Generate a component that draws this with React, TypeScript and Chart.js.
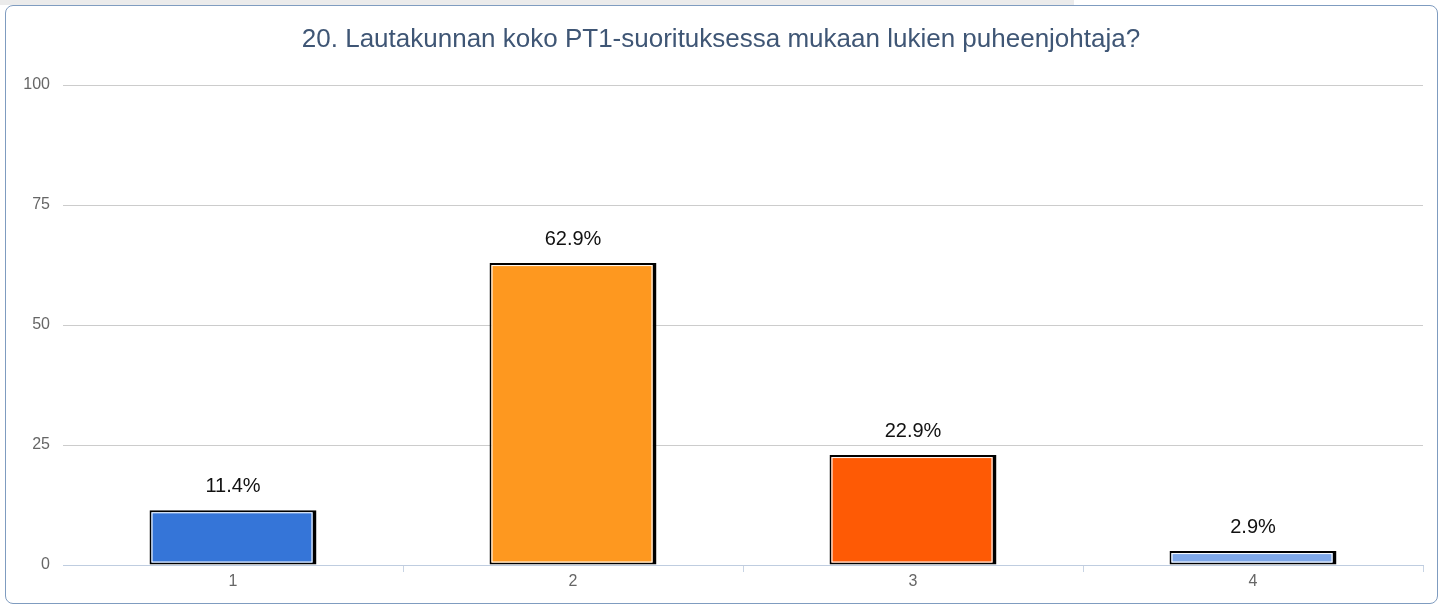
import React, { useEffect, useRef } from "react";
import { Chart, registerables } from "chart.js";

Chart.register(...registerables);

const categories = ["1", "2", "3", "4"];
const percentages = [11.4, 62.9, 22.9, 2.9];
const barColors = ["#3575d8", "#fe981f", "#fe5a05", "#7ea7e8"];
const yTicks = [0, 25, 50, 75, 100];
const titleText = "20. Lautakunnan koko PT1-suorituksessa mukaan lukien puheenjohtaja?";

const FONT = "'Liberation Sans', Arial, sans-serif";

const innerLinePlugin = {
  id: "innerLine",
  afterDatasetsDraw(chart: any) {
    const ctx = chart.ctx;
    const meta = chart.getDatasetMeta(0);
    ctx.save();
    ctx.strokeStyle = "#ffffff";
    ctx.lineWidth = 1;
    meta.data.forEach((el: any) => {
      const { x, y, base, width } = el.getProps(["x", "y", "base", "width"], true);
      const left = x - width / 2 + 2;
      const right = x + width / 2 - 4;
      const top = Math.min(y, base) + 2;
      const bottom = Math.max(y, base) - 2;
      if (bottom - top > 2) {
        ctx.strokeRect(left + 0.5, top + 0.5, right - left - 1, bottom - top - 1);
      }
    });
    ctx.restore();
  },
};

const labelsPlugin = {
  id: "valueLabels",
  afterDatasetsDraw(chart: any) {
    const ctx = chart.ctx;
    const meta = chart.getDatasetMeta(0);
    ctx.save();
    ctx.fillStyle = "#111111";
    ctx.font = `20px ${FONT}`;
    ctx.textAlign = "center";
    ctx.textBaseline = "alphabetic";
    meta.data.forEach((el: any, i: number) => {
      const { x, y } = el.getProps(["x", "y"], true);
      ctx.fillText(`${percentages[i].toFixed(1)}%`, x, y - 18);
    });
    ctx.restore();
  },
};

const titlePlugin = {
  id: "fixedTitle",
  afterDraw(chart: any) {
    const ctx = chart.ctx;
    ctx.save();
    ctx.fillStyle = "#3f5675";
    ctx.font = `26px ${FONT}`;
    ctx.textAlign = "center";
    ctx.textBaseline = "alphabetic";
    ctx.fillText(titleText, 721, 47);
    ctx.restore();
  },
};

export default function App() {
  const canvasRef = useRef<HTMLCanvasElement | null>(null);

  useEffect(() => {
    if (!canvasRef.current) return;
    const chart = new Chart(canvasRef.current, {
      type: "bar",
      data: {
        labels: categories,
        datasets: [
          {
            data: percentages,
            backgroundColor: barColors,
            borderColor: "#000000",
            borderWidth: { top: 2, left: 2, bottom: 2, right: 4 } as any,
            borderSkipped: false,
            barPercentage: 0.491,
            categoryPercentage: 1,
          },
        ],
      },
      options: {
        animation: false,
        responsive: false,
        maintainAspectRatio: false,
        layout: { padding: { top: 85, left: 0, right: 22, bottom: 0 } },
        plugins: {
          legend: { display: false },
          tooltip: { enabled: false },
          title: { display: false },
        },
        scales: {
          x: {
            offset: true,
            grid: {
              offset: true,
              drawOnChartArea: false,
              drawTicks: true,
              tickLength: 7,
              color: (c: any) => (c.index === 0 ? "rgba(0,0,0,0)" : "#c8d4e4"),
            },
            border: { display: true, color: "#bfcde0", width: 1 },
            ticks: {
              padding: 0,
              color: "#666666",
              font: { family: FONT, size: 16 },
            },
            afterFit: (scale: any) => {
              scale.height = 42;
            },
          },
          y: {
            min: 0,
            max: 100,
            afterBuildTicks: (scale: any) => {
              scale.ticks = yTicks.map((v) => ({ value: v }));
            },
            grid: {
              drawTicks: false,
              color: "#cccccc",
              lineWidth: 1,
            },
            border: { display: false },
            ticks: {
              padding: 13,
              color: "#666666",
              font: { family: FONT, size: 16 },
            },
            afterFit: (scale: any) => {
              scale.width = 63;
            },
          },
        },
      },
      plugins: [innerLinePlugin, labelsPlugin, titlePlugin],
    });
    return () => chart.destroy();
  }, []);

  return (
    <div
      style={{
        position: "fixed",
        left: 0,
        top: 0,
        width: 1445,
        height: 607,
        background: "#ffffff",
        overflow: "hidden",
      }}
    >
      <div
        style={{
          position: "absolute",
          left: 0,
          top: 0,
          width: 1074,
          height: 5,
          background: "#ebebeb",
        }}
      />
      <div
        style={{
          position: "absolute",
          left: 5,
          top: 5,
          width: 1431,
          height: 597,
          border: "1px solid #7f9cc0",
          borderRadius: 8,
          background: "#ffffff",
        }}
      />
      <canvas
        ref={canvasRef}
        width={1445}
        height={607}
        style={{ position: "absolute", left: 0, top: 0, width: 1445, height: 607 }}
      />
    </div>
  );
}
